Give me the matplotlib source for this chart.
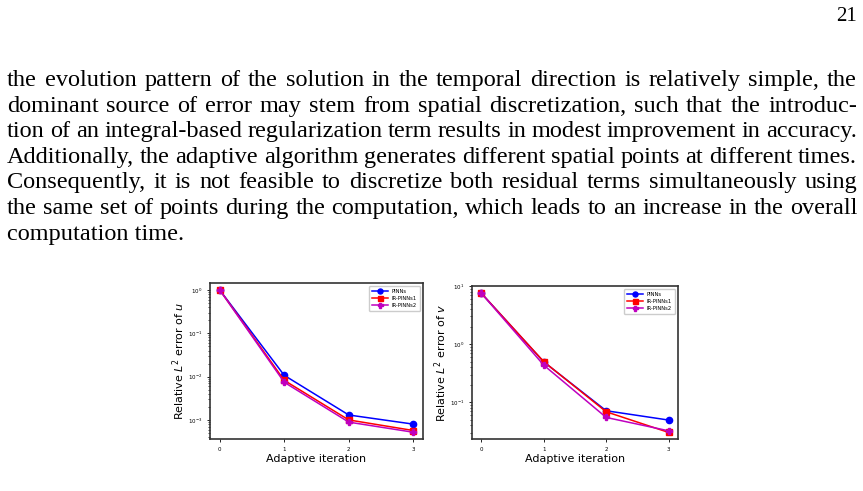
import numpy as np
import matplotlib
matplotlib.use('Agg')
import matplotlib.pyplot as plt

W, H = 863, 491

# 页面文字
page_no = '21'
para_lines = [
    'the evolution pattern of the solution in the temporal direction is relatively simple, the',
    'dominant source of error may stem from spatial discretization, such that the introduc-',
    'tion of an integral-based regularization term results in modest improvement in accuracy.',
    'Additionally, the adaptive algorithm generates different spatial points at different times.',
    'Consequently, it is not feasible to discretize both residual terms simultaneously using',
    'the same set of points during the computation, which leads to an increase in the overall',
    'computation time.',
]

# 数据
iters = [0, 1, 2, 3]
labels = ['PINNs', 'IR-PINNs1', 'IR-PINNs2']
err_u_pinn = [1.0, 1.07e-2, 1.3e-3, 8.0e-4]
err_u_ir1 = [1.0, 8.2e-3, 1.0e-3, 5.7e-4]
err_u_ir2 = [1.0, 7.4e-3, 8.9e-4, 5.2e-4]
err_v_pinn = [7.5, 0.495, 0.0717, 0.0496]
err_v_ir1 = [7.5, 0.50, 0.0688, 0.0304]
err_v_ir2 = [7.5, 0.435, 0.055, 0.0324]

fig = plt.figure(figsize=(W / 100, H / 100), dpi=100)
renderer = fig.canvas.get_renderer()

serif = 'Liberation Serif'
fs = 17.5
left_px, right_px = 7, 857
base0, pitch = 86, 25.6


def px(x, y):
    return x / W, 1 - y / H


fig.text(*px(857, 21), page_no, family=serif, fontsize=15, ha='right', va='baseline')

# 两端对齐
for i, line in enumerate(para_lines):
    y = base0 + i * pitch
    words = line.split(' ')
    if i == len(para_lines) - 1:
        fig.text(*px(left_px, y), line, family=serif, fontsize=fs, va='baseline')
        continue
    objs = [fig.text(*px(left_px, y), w, family=serif, fontsize=fs, va='baseline') for w in words]
    widths = [o.get_window_extent(renderer).width for o in objs]
    gap = (right_px - left_px - sum(widths)) / (len(words) - 1)
    x = left_px
    for o, w in zip(objs, widths):
        o.set_position(px(x, y))
        x += w + gap


def draw(ax, ys, ylabel, ylim):
    styles = [('b', 'o'), ('r', 's'), ('m', 'P')]
    for yv, lab, (c, m) in zip(ys, labels, styles):
        ax.plot(iters, yv, color=c, marker=m, markersize=4.5, linewidth=1.1, label=lab)
    ax.set_yscale('log')
    ax.set_ylim(*ylim)
    ax.set_xticks(iters)
    ax.tick_params(labelsize=4, length=2, width=0.6)
    ax.tick_params(which='minor', length=1.2, width=0.5)
    for s in ax.spines.values():
        s.set_linewidth(1.2)
        s.set_color('#333333')
    ax.set_xlabel('Adaptive iteration', fontsize=8, labelpad=2)
    ax.set_ylabel(ylabel, fontsize=8, labelpad=1)
    ax.legend(loc='upper right', fontsize=3.8, handlelength=3, borderpad=0.6,
              labelspacing=0.4, framealpha=1, edgecolor='#cccccc', markerscale=0.8)


ax1 = fig.add_axes([210 / W, 1 - 439 / H, 213 / W, 156 / H])
draw(ax1, [err_u_pinn, err_u_ir1, err_u_ir2], 'Relative $L^2$ error of $u$', (10 ** -3.44, 10 ** 0.16))

ax2 = fig.add_axes([472 / W, 1 - 439 / H, 206 / W, 153 / H])
draw(ax2, [err_v_pinn, err_v_ir1, err_v_ir2], 'Relative $L^2$ error of $v$', (10 ** -1.63, 10 ** 1))

plt.savefig('out.png', dpi=100)
